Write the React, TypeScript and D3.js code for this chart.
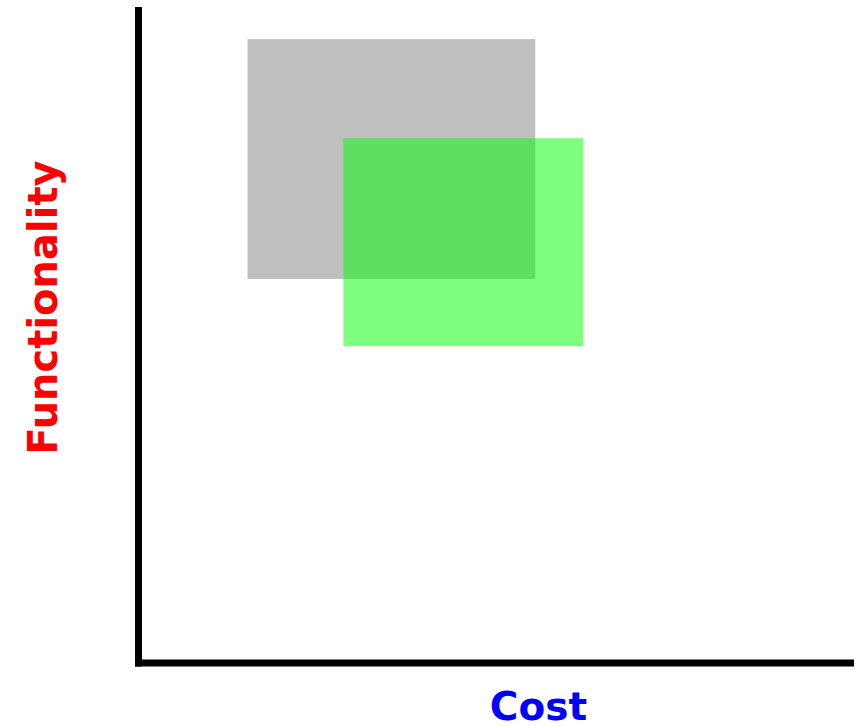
import React from "react";
import * as d3 from "d3";

const W = 856;
const H = 726;

const regionNames = ["Baseline", "Proposed"];
const regionX0 = [1.52, 2.855];
const regionX1 = [5.53, 6.2];
const regionY0 = [5.855, 4.83];
const regionY1 = [9.51, 8.0];
const regionColors = ["#808080", "#00ff00"];

const xLabel = "Cost";
const yLabel = "Functionality";

export default function App() {
  const x = d3.scaleLinear().domain([0, 10]).range([138.5, 856]);
  const y = d3.scaleLinear().domain([0, 10]).range([663, 7]);
  const font = "'DejaVu Sans', Verdana, sans-serif";

  return (
    <svg
      width={W}
      height={H}
      viewBox={`0 0 ${W} ${H}`}
      style={{ position: "absolute", left: 0, top: 0, display: "block", background: "#fff" }}
    >
      {regionNames.map((n, i) => (
        <rect
          key={n}
          x={x(regionX0[i])}
          y={y(regionY1[i])}
          width={x(regionX1[i]) - x(regionX0[i])}
          height={y(regionY0[i]) - y(regionY1[i])}
          fill={regionColors[i]}
          fillOpacity={0.5}
        />
      ))}
      <line x1={x(0)} x2={x(0)} y1={y(10)} y2={y(0) + 3.5} stroke="#000" strokeWidth={7} />
      <line x1={x(0) - 3.5} x2={854} y1={y(0)} y2={y(0)} stroke="#000" strokeWidth={7} />
      <text
        x={538.5}
        y={720}
        textAnchor="middle"
        fontFamily={font}
        fontWeight="bold"
        fontSize={39}
        fill="#0000ff"
      >
        {xLabel}
      </text>
      <text
        transform={`translate(57,307.5) rotate(-90)`}
        textAnchor="middle"
        fontFamily={font}
        fontWeight="bold"
        fontSize={40}
        fill="#ff0000"
      >
        {yLabel}
      </text>
    </svg>
  );
}
